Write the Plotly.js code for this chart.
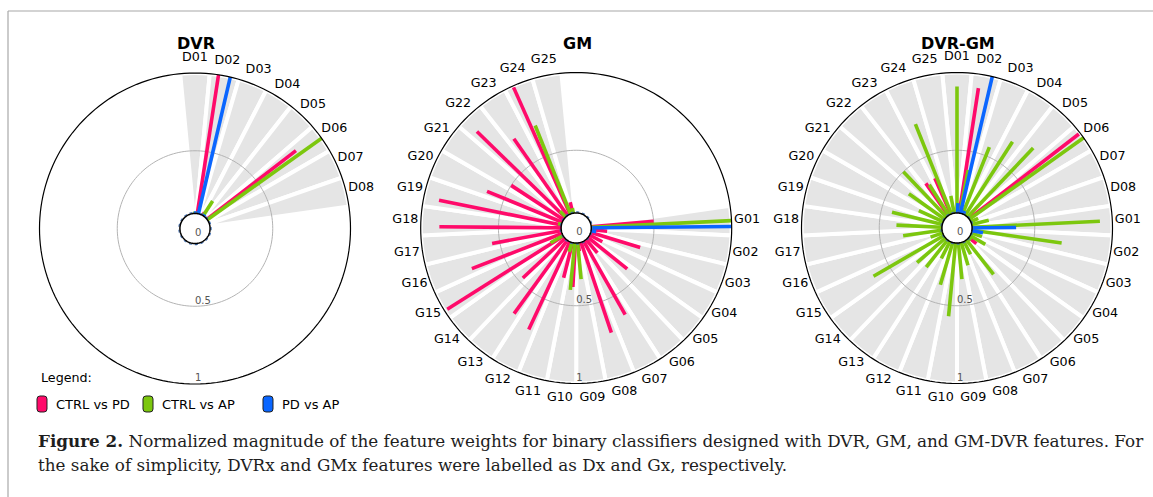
<!DOCTYPE html>
<html><head><meta charset="utf-8">
<script src="https://cdn.plot.ly/plotly-3.0.1.min.js"></script>
<style>html,body{margin:0;padding:0;background:#fff;} #chart{width:1153px;height:497px;}</style>
</head><body><div id="chart"></div>
<script>
// ---------- DATA ----------
const features = ['D01','D02','D03','D04','D05','D06','D07','D08',
  'G01','G02','G03','G04','G05','G06','G07','G08','G09','G10','G11','G12','G13',
  'G14','G15','G16','G17','G18','G19','G20','G21','G22','G23','G24','G25'];
const dvrFeatures = features.slice(0, 8);
const gmFeatures = features.slice(8);
const seriesNames = ['CTRL vs PD', 'CTRL vs AP', 'PD vs AP'];
const seriesColors = ['#ff0a6a', '#7cc70e', '#0a66ff'];
const radialTickVals = [0, 0.5, 1];
const radialTickText = ['0', '0.5', '1'];
const panelTitles = ['DVR', 'GM', 'DVR-GM'];

// DVR classifiers (D01..D08)
const dvrCtrlPd = [0.00, 1.00, 0.00, 0.12, 0.00, 0.82, 0.00, 0.00];
const dvrCtrlAp = [0.11, 0.00, 0.00, 0.21, 0.00, 1.00, 0.00, 0.00];
const dvrPdAp   = [0.11, 1.00, 0.00, 0.11, 0.00, 0.00, 0.00, 0.00];

// GM classifiers (G01..G25)
const gmCtrlPd = [0.50, 0.20, 0.43, 0.19, 0.42, 0.21, 0.64, 0.71, 0.15, 0.38, 0.33, 0.72, 0.68,
                  0.47, 0.98, 0.72, 0.55, 0.88, 0.90, 0.62, 0.50, 0.89, 0.70, 0.99, 0.17];
const gmCtrlAp = [1.00, 0.00, 0.00, 0.00, 0.00, 0.00, 0.00, 0.00, 0.33, 0.40, 0.16, 0.00, 0.00,
                  0.00, 0.19, 0.00, 0.00, 0.00, 0.12, 0.00, 0.00, 0.15, 0.00, 0.71, 0.13];
const gmPdAp   = [1.00, 0.13, 0.00, 0.00, 0.00, 0.00, 0.00, 0.00, 0.00, 0.00, 0.00, 0.00, 0.00,
                  0.00, 0.00, 0.00, 0.00, 0.00, 0.00, 0.00, 0.00, 0.00, 0.00, 0.00, 0.00];

// DVR-GM classifiers (D01..D08, G01..G25)
const dvrgmCtrlPd = [0.00, 0.91, 0.00, 0.00, 0.00, 0.99, 0.00, 0.00,
                     0.00, 0.00, 0.00, 0.00, 0.16, 0.00, 0.00, 0.00, 0.00, 0.00, 0.00, 0.00, 0.00,
                     0.00, 0.00, 0.00, 0.00, 0.00, 0.00, 0.00, 0.00, 0.00, 0.35, 0.35, 0.00];
const dvrgmCtrlAp = [0.91, 0.38, 0.56, 0.66, 0.71, 1.00, 0.15, 0.21,
                     0.92, 0.68, 0.17, 0.21, 0.12, 0.38, 0.19, 0.25, 0.33, 0.57, 0.38, 0.22, 0.32,
                     0.34, 0.62, 0.18, 0.35, 0.39, 0.43, 0.27, 0.38, 0.50, 0.33, 0.72, 0.21];
const dvrgmPdAp   = [0.16, 1.00, 0.12, 0.00, 0.00, 0.00, 0.00, 0.00,
                     0.38, 0.17, 0.00, 0.00, 0.00, 0.00, 0.00, 0.00, 0.00, 0.00, 0.00, 0.00, 0.00,
                     0.00, 0.00, 0.00, 0.00, 0.00, 0.00, 0.00, 0.00, 0.00, 0.00, 0.00, 0.00];

const captionLine1 = '<b>Figure 2.</b> Normalized magnitude of the feature weights for binary classifiers designed with DVR, GM, and GM-DVR features. For';
const captionLine2 = 'the sake of simplicity, DVRx and GMx features were labelled as Dx and Gx, respectively.';

// ---------- BUILD ----------
const W = 1153, H = 497;
const slotW = 360 / features.length;
const thetaOf = f => features.indexOf(f) * slotW;
const seriesOffset = [-2.2, 0, 2.2];
const px = x => x / W;
const py = y => 1 - y / H;

const panels = [
  {id: 'polar',  feats: dvrFeatures, vals: [dvrCtrlPd, dvrCtrlAp, dvrPdAp],   cx: 195,   cy: 228.5},
  {id: 'polar2', feats: gmFeatures,  vals: [gmCtrlPd, gmCtrlAp, gmPdAp],      cx: 576.2, cy: 228},
  {id: 'polar3', feats: features,    vals: [dvrgmCtrlPd, dvrgmCtrlAp, dvrgmPdAp], cx: 957, cy: 228}
];
const R = 155.5, RMAX = 1.1;

const circle = (r) => { const th = [], rr = []; for (let a = 0; a <= 360; a += 2) { th.push(a); rr.push(r); } return {th, rr}; };

const traces = [];
const layout = {
  width: W, height: H, margin: {l: 0, r: 0, t: 0, b: 0, pad: 0},
  paper_bgcolor: '#ffffff', plot_bgcolor: '#ffffff', showlegend: false,
  font: {family: 'DejaVu Sans, sans-serif', color: '#000'},
  annotations: [], shapes: []
};

panels.forEach((p, k) => {
  const sub = p.id;
  const half = R * RMAX;
  layout[sub] = {
    domain: {x: [px(p.cx - half), px(p.cx + half)], y: [py(p.cy + half), py(p.cy - half)]},
    bgcolor: 'rgba(0,0,0,0)',
    radialaxis: {range: [0, RMAX], visible: false},
    angularaxis: {rotation: 90, direction: 'clockwise', thetaunit: 'degrees', visible: false}
  };
  // grey feature sectors
  traces.push({type: 'barpolar', subplot: sub, r: p.feats.map(() => 1), theta: p.feats.map(thetaOf),
    width: p.feats.map(() => slotW), base: 0,
    marker: {color: '#e5e5e5', line: {color: '#ffffff', width: 4}}, hoverinfo: 'skip'});
  // 0.5 grid circle
  const g = circle(0.5);
  traces.push({type: 'scatterpolar', subplot: sub, mode: 'lines', r: g.rr, theta: g.th,
    line: {color: '#b3b3b3', width: 1}, hoverinfo: 'skip'});
  // series bars (radial lines)
  p.vals.forEach((arr, s) => {
    const r = [], th = [];
    arr.forEach((v, i) => {
      if (v <= 0) return;
      const t = thetaOf(p.feats[i]) + seriesOffset[s];
      r.push(0, v, null); th.push(t, t, null);
    });
    traces.push({type: 'scatterpolar', subplot: sub, mode: 'lines', name: seriesNames[s], r, theta: th,
      connectgaps: false, line: {color: seriesColors[s], width: 3.6}, hoverinfo: 'skip'});
  });
  // outer circle
  const o = circle(1);
  traces.push({type: 'scatterpolar', subplot: sub, mode: 'lines', r: o.rr, theta: o.th,
    line: {color: '#000', width: 1.2}, hoverinfo: 'skip'});
  // centre hole
  const hr = circle(0.104);
  traces.push({type: 'scatterpolar', subplot: sub, mode: 'lines', r: hr.rr, theta: hr.th,
    line: {color: '#3f6fb5', width: 1.1, dash: 'dot'}, hoverinfo: 'skip'});
  const h = circle(0.097);
  traces.push({type: 'scatterpolar', subplot: sub, mode: 'lines', r: h.rr, theta: h.th, fill: 'toself',
    fillcolor: '#ffffff', line: {color: '#000', width: 1.5}, hoverinfo: 'skip'});
  // feature labels
  traces.push({type: 'scatterpolar', subplot: sub, mode: 'text', r: p.feats.map(() => 1.1),
    theta: p.feats.map(thetaOf), text: p.feats, textposition: 'middle center',
    textfont: {family: 'DejaVu Sans', size: 12.7, color: '#000'}, hoverinfo: 'skip', cliponaxis: false});
  // radial tick labels
  traces.push({type: 'scatterpolar', subplot: sub, mode: 'text', r: radialTickVals,
    theta: radialTickVals.map(() => 180), text: radialTickText,
    textposition: radialTickVals.map(v => v === 0 ? 'bottom right' : 'top right'),
    textfont: {family: 'DejaVu Sans', size: 10, color: '#555555'}, hoverinfo: 'skip', cliponaxis: false});
  // title
  layout.annotations.push({xref: 'paper', yref: 'paper', x: px(p.cx + 1), y: py(43.5), xanchor: 'center', yanchor: 'middle',
    text: '<b>' + panelTitles[k] + '</b>', showarrow: false, font: {family: 'DejaVu Sans', size: 16, color: '#000'}});
});

// legend (hand drawn like the original)
layout.annotations.push({xref: 'paper', yref: 'paper', x: px(39), y: py(377), xanchor: 'left', yanchor: 'middle',
  text: 'Legend:', showarrow: false, font: {family: 'DejaVu Sans', size: 12.7, color: '#000'}});
const legendX = [37, 143, 263];
const rr = (x0, y0, x1, y1, c) => {
  const P = (x, y) => px(x).toFixed(5) + ',' + py(y).toFixed(5);
  return 'M' + P(x0 + c, y0) + ' L' + P(x1 - c, y0) + ' Q' + P(x1, y0) + ' ' + P(x1, y0 + c) +
    ' L' + P(x1, y1 - c) + ' Q' + P(x1, y1) + ' ' + P(x1 - c, y1) + ' L' + P(x0 + c, y1) +
    ' Q' + P(x0, y1) + ' ' + P(x0, y1 - c) + ' L' + P(x0, y0 + c) + ' Q' + P(x0, y0) + ' ' + P(x0 + c, y0) + ' Z';
};
seriesNames.forEach((n, i) => {
  const x0 = legendX[i];
  layout.shapes.push({type: 'path', xref: 'paper', yref: 'paper', path: rr(x0, 396, x0 + 10, 412, 3),
    fillcolor: seriesColors[i], line: {color: '#222', width: 1}});
  layout.annotations.push({xref: 'paper', yref: 'paper', x: px(x0 + 17), y: py(404), xanchor: 'left', yanchor: 'middle',
    text: n, showarrow: false, font: {family: 'DejaVu Sans', size: 13, color: '#000'}});
});

// frame
layout.shapes.push({type: 'line', xref: 'paper', yref: 'paper', x0: px(8), x1: 1, y0: py(11), y1: py(11), line: {color: '#a8a8a8', width: 1.2}});
layout.shapes.push({type: 'line', xref: 'paper', yref: 'paper', x0: px(8), x1: px(8), y0: py(11), y1: 0, line: {color: '#a8a8a8', width: 1.2}});

// caption
layout.annotations.push({xref: 'paper', yref: 'paper', x: px(36), y: py(441), xanchor: 'left', yanchor: 'middle',
  text: captionLine1, showarrow: false, font: {family: 'DejaVu Serif, serif', size: 16.8, color: '#1e1e1e'}});
layout.annotations.push({xref: 'paper', yref: 'paper', x: px(36), y: py(465), xanchor: 'left', yanchor: 'middle',
  text: captionLine2, showarrow: false, font: {family: 'DejaVu Serif, serif', size: 16.8, color: '#1e1e1e'}});

Plotly.newPlot('chart', traces, layout, {staticPlot: true, displayModeBar: false});
</script></body></html>
